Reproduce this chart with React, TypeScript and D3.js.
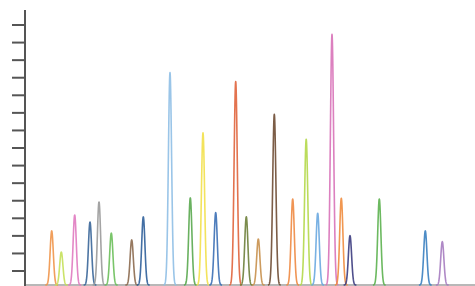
import React from "react";
import * as d3 from "d3";

const peakTimes = [2.67, 3.63, 4.97, 6.5, 7.4, 8.63, 10.67, 11.83, 14.5, 16.53, 17.8, 19.07, 21.07, 22.13, 23.33, 24.93, 26.77, 28.12, 29.27, 30.7, 31.63, 32.5, 35.43, 40.03, 41.73];
const peakHeights = [3.28, 2.08, 4.19, 3.79, 4.93, 3.16, 2.77, 4.08, 12.29, 5.16, 8.86, 4.32, 11.78, 4.09, 2.82, 9.92, 5.1, 8.5, 4.29, 14.47, 5.14, 3.01, 5.1, 3.28, 2.67];
const peakColors = ["#f0954a", "#c5e05a", "#e07ac0", "#3a6699", "#9a9a9a", "#6cbf5a", "#8c6a4f", "#2f5f9a", "#8fbfe6", "#5aa84f", "#f2e04a", "#3b6fb5", "#e0643c", "#6d7f3a", "#c8904c", "#6e4b33", "#ee8a42", "#b4d84a", "#6aa8e0", "#d872b8", "#f08c3e", "#3c3c80", "#5cb14f", "#3a7fc0", "#a67cc0"];
const yTicks = [1, 2, 3, 4, 5, 6, 7, 8, 9, 10, 11, 12, 13, 14, 15];
const baselineLevel = 0.2;
const sigma = 0.16;

const W = 475;
const H = 286;

export default function App() {
  const x = d3.scaleLinear().domain([0, 45]).range([25, 475]);
  const y = d3.scaleLinear().domain([0, 15]).range([288.6, 25]);

  const line = d3
    .line<[number, number]>()
    .x((d) => x(d[0]))
    .y((d) => y(d[1]));

  const peaks = peakTimes.map((t0, i) => {
    const h = peakHeights[i];
    const pts: [number, number][] = d3.range(-4, 4.001, 0.1).map((k) => {
      const t = t0 + k * sigma;
      const g = Math.exp(-0.5 * k * k);
      return [t, baselineLevel + (h - baselineLevel) * g];
    });
    return { d: line(pts) || "", color: peakColors[i] };
  });

  return (
    <svg
      width={W}
      height={H}
      style={{ position: "absolute", left: 0, top: 0, background: "#fff" }}
    >
      <line x1={25} x2={475} y1={y(baselineLevel)} y2={y(baselineLevel)} stroke="#a0a0a0" strokeWidth={1.5} />
      {peaks.map((p, i) => (
        <path key={i} d={p.d} fill="none" stroke={p.color} strokeWidth={1.6} strokeOpacity={0.9} strokeLinejoin="round" />
      ))}
      <line x1={25} x2={25} y1={10} y2={286} stroke="#555" strokeWidth={2} />
      {yTicks.map((v) => (
        <line key={v} x1={12} x2={25} y1={y(v)} y2={y(v)} stroke="#555" strokeWidth={2} />
      ))}
    </svg>
  );
}
